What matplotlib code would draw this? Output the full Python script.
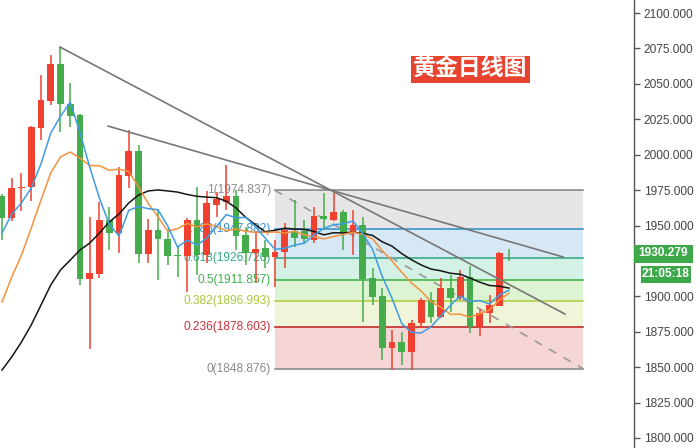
import matplotlib
matplotlib.use('Agg')
import matplotlib.pyplot as plt
import matplotlib.transforms as mtransforms
from matplotlib.patches import Rectangle
import numpy as np
import pandas as pd

# ---------------- data ----------------
opens = [1970.8, 1955.3, 1976.5, 1977.2, 2018.8, 2037.9, 2064.0, 2035.8, 2028.0, 1912.2,
         1915.8, 1953.9, 1944.7, 1984.9, 2002.6, 1929.9, 1946.8, 1940.5, 1929.0, 1928.5,
         1953.9, 1929.2, 1964.5, 1966.6, 1970.8, 1943.3, 1930.6, 1934.1, 1927.8, 1931.3,
         1946.1, 1946.1, 1939.8, 1956.7, 1953.9, 1959.5, 1944.7, 1950.4, 1912.9, 1900.2,
         1863.5, 1867.8, 1860.7, 1881.2, 1897.4, 1885.4, 1905.9, 1898.8, 1913.6, 1878.4,
         1888.2, 1893.2, 1930.6]
highs = [1972.0, 1983.5, 1987.1, 2020.0, 2056.2, 2070.4, 2076.0, 2050.6, 2028.5, 1956.0,
         1966.6, 1963.1, 1991.3, 2017.4, 2006.8, 1954.6, 1961.6, 1947.5, 1934.8, 1955.3,
         1977.2, 1974.4, 1973.6, 1992.7, 1975.1, 1948.9, 1945.4, 1939.8, 1939.8, 1951.8,
         1968.0, 1953.9, 1963.1, 1972.9, 1975.1, 1960.9, 1960.9, 1956.0, 1920.0, 1905.9,
         1876.2, 1874.8, 1883.3, 1898.8, 1903.1, 1912.9, 1915.1, 1918.6, 1921.4, 1891.1,
         1900.9, 1931.0, 1933.4]
lows = [1939.8, 1953.5, 1960.2, 1967.3, 2010.4, 2035.1, 2016.0, 2019.5, 1908.0, 1862.8,
        1912.9, 1932.7, 1930.6, 1976.5, 1923.5, 1923.5, 1911.5, 1922.1, 1913.6, 1903.1,
        1915.1, 1923.5, 1956.0, 1960.9, 1932.7, 1922.1, 1910.1, 1920.0, 1906.6, 1920.0,
        1934.8, 1937.6, 1937.6, 1946.8, 1953.2, 1932.7, 1929.2, 1881.9, 1893.9, 1855.1,
        1848.0, 1851.5, 1848.0, 1877.6, 1881.2, 1884.7, 1888.9, 1897.4, 1874.1, 1872.0,
        1881.2, 1893.0, 1924.9]
closes = [1955.3, 1976.5, 1977.5, 2019.5, 2038.6, 2064.0, 2035.8, 2027.3, 1912.2, 1916.5,
          1953.9, 1944.7, 1985.6, 2002.6, 1929.9, 1946.8, 1940.5, 1928.5, 1928.3, 1953.9,
          1929.2, 1965.9, 1968.7, 1970.8, 1942.6, 1930.6, 1933.4, 1927.8, 1931.3, 1946.8,
          1941.2, 1940.5, 1956.7, 1954.6, 1959.5, 1944.7, 1950.4, 1912.2, 1899.5, 1863.5,
          1867.8, 1860.7, 1881.2, 1897.4, 1885.4, 1905.9, 1898.8, 1913.6, 1878.4, 1888.2,
          1893.9, 1930.6, 1930.3]

# moving-average values before the window fills (history left of the view)
ma5_early = [1944.7, 1958.0, 1966.0, 1976.5]
ma10_early = [1896.0, 1913.6, 1929.2, 1948.2, 1968.0, 1987.1, 1998.4, 2001.9, 1997.6]
ma20_early = [1848.0, 1857.2, 1867.8, 1879.8, 1893.9, 1908.0, 1918.6, 1925.6, 1932.7, 1937.6,
              1944.7, 1952.5, 1958.1, 1965.9, 1971.5, 1974.4, 1975.1, 1974.4, 1973.6]

# Fibonacci retracement
fib_ratios = ['1', '0.786', '0.618', '0.5', '0.382', '0.236', '0']
fib_values = [1974.837, 1947.882, 1926.720, 1911.857, 1896.993, 1878.603, 1848.876]
fib_start, fib_end = 28.0, 59.6

# trend lines (index, price) anchors
trend_a = [(5.95, 2076.0), (57.74, 1887.5)]
trend_b = [(10.87, 2020.2), (57.54, 1927.8)]

yticks = [1800, 1825, 1850, 1875, 1900, 1925, 1950, 1975, 2000, 2025, 2050, 2075, 2100]
hidden_tick = 1925  # covered by the price tag in the reference
last_price = 1930.279
last_time = '21:05:18'
title = '黄金日线图'

# ---------------- styles ----------------
UP = '#f0402f'
DOWN = '#45ac4c'
fib_line_colors = ['#8a8a8a', '#3a95c9', '#3aaa8c', '#47b548', '#b5cf45', '#c42a2a', '#8a8a8a']
fib_text_colors = ['#8a8a8a', '#3b8fc7', '#33a886', '#3cb34a', '#a8c83a', '#c8323a', '#8a8a8a']
fib_fills = ['#e6e6e6', '#d5e8f4', '#d3f1e5', '#dcf3d4', '#eef5d9', '#f5d5d5']

plt.rcParams['font.family'] = ['Liberation Sans', 'DejaVu Sans']

fig = plt.figure(figsize=(7.0, 4.48), dpi=100)
ax = fig.add_axes([0, 0, 634 / 700, 1])
ax.set_facecolor('white')

n = len(closes)
x = np.arange(n)
o = np.array(opens); h = np.array(highs); l = np.array(lows); c = np.array(closes)

# moving averages
s = pd.Series(c)
ma5 = s.rolling(5).mean().to_numpy(); ma5[:len(ma5_early)] = ma5_early
ma10 = s.rolling(10).mean().to_numpy(); ma10[:len(ma10_early)] = ma10_early
ma20 = s.rolling(20).mean().to_numpy(); ma20[:len(ma20_early)] = ma20_early

# Fibonacci bands
for i in range(len(fib_values) - 1):
    ax.fill_between([fib_start, fib_end], fib_values[i + 1], fib_values[i],
                    color=fib_fills[i], lw=0, zorder=0)
for v, r, lc, tc in zip(fib_values, fib_ratios, fib_line_colors, fib_text_colors):
    ax.plot([fib_start, fib_end], [v, v], color=lc, lw=1.2, zorder=1)
    ax.text(fib_start - 0.4, v, f'{r}({v:.3f})', color=tc, fontsize=8.6,
            ha='right', va='center', zorder=1)
ax.plot([fib_start, fib_end], [fib_values[0], fib_values[-1]], color='#9a9a9a',
        lw=1.2, ls=(0, (5, 5)), zorder=1)

# candles
cols = np.where(c >= o, UP, DOWN)
ax.vlines(x, l, h, colors=cols, lw=1.1, zorder=4)
bottom = np.minimum(o, c)
height = np.maximum(np.abs(c - o), 0.45)
ax.bar(x, height, bottom=bottom, width=0.7, color=cols, lw=0, zorder=4)

# moving average lines
ax.plot(x, ma20, color='#151515', lw=1.1, zorder=5)
ax.plot(x, ma10, color='#f4913d', lw=1.1, zorder=5)
ax.plot(x, ma5, color='#3f9be3', lw=1.1, zorder=5)

# trend lines
for tl in (trend_a, trend_b):
    ax.plot([p[0] for p in tl], [p[1] for p in tl], color='#777777', lw=1.2, zorder=6)

# axes
ax.set_xlim(-0.205, 64.82)
ax.set_ylim(1792.94, 2109.18)
for sp in ('left', 'top', 'bottom'):
    ax.spines[sp].set_visible(False)
ax.spines['right'].set_color('#555555')
ax.spines['right'].set_linewidth(1.0)
ax.set_xticks([])
ax.yaxis.tick_right()
ax.set_yticks(yticks)
ax.set_yticklabels(['' if v == hidden_tick else f'{v:.3f}' for v in yticks])
ax.tick_params(axis='y', direction='out', length=4, width=1, color='#555555',
               labelcolor='#444444', labelsize=8.6, pad=3)

# last price tag and timer
trans = mtransforms.blended_transform_factory(ax.transAxes, ax.transData)
ppu = 448 / (2109.18 - 1792.94)  # pixels per price unit
ax.add_patch(Rectangle((1.0, last_price - 9.5 / ppu), 59 / 634, 18 / ppu, transform=trans,
                       facecolor='#3ca84a', edgecolor='none', clip_on=False, zorder=10))
ax.text(1.0 + 29.5 / 634, last_price, f'{last_price:.3f}', transform=trans, color='white',
        fontsize=8.6, fontweight='bold', ha='center', va='center', clip_on=False, zorder=11)
ax.add_patch(Rectangle((1.0 + 7 / 634, last_price - 29.5 / ppu), 50 / 634, 17 / ppu,
                       transform=trans, facecolor='#3ca84a', edgecolor='none',
                       clip_on=False, zorder=10))
ax.text(1.0 + 32 / 634, last_price - 21 / ppu, last_time, transform=trans, color='white',
        fontsize=8.6, fontweight='bold', ha='center', va='center', clip_on=False, zorder=11)

# title
fig.text(470.5 / 700, 1 - 69.5 / 448, title, fontsize=16.5, fontweight='bold', color='white',
         family=['Noto Sans CJK SC', 'DejaVu Sans'], ha='center', va='center',
         bbox=dict(boxstyle='square,pad=0.1', facecolor='#e8432e', edgecolor='none'))

fig.savefig('out.png', dpi=100, facecolor='white')
